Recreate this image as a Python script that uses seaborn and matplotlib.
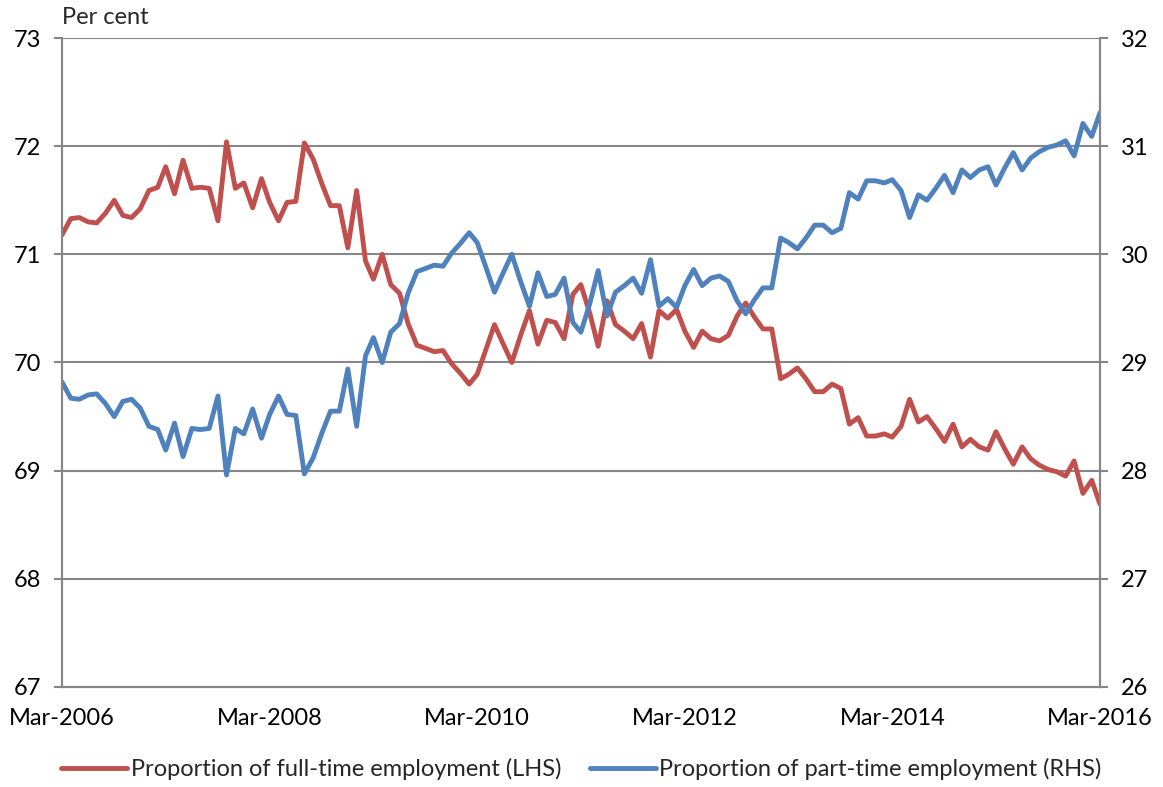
import numpy as np
import pandas as pd
import seaborn as sns
import matplotlib.pyplot as plt

# monthly, Mar-2006 .. Mar-2016
months = pd.date_range("2006-03-01", "2016-03-01", freq="MS")

full_time = [71.18, 71.33, 71.34, 71.30, 71.29, 71.38, 71.50, 71.36, 71.34, 71.42,
             71.59, 71.62, 71.81, 71.56, 71.87, 71.61, 71.62, 71.61, 71.31, 72.04,
             71.61, 71.66, 71.43, 71.70, 71.48, 71.31, 71.48, 71.49, 72.03, 71.88,
             71.65, 71.45, 71.45, 71.06, 71.59, 70.94, 70.77, 71.00, 70.72, 70.64,
             70.36, 70.16, 70.13, 70.10, 70.11, 69.99, 69.90, 69.80, 69.89, 70.12,
             70.35, 70.17, 70.00, 70.25, 70.48, 70.17, 70.39, 70.37, 70.22, 70.63,
             70.72, 70.46, 70.15, 70.57, 70.35, 70.29, 70.22, 70.36, 70.05, 70.48,
             70.41, 70.49, 70.29, 70.14, 70.29, 70.22, 70.20, 70.25, 70.43, 70.55,
             70.42, 70.31, 70.31, 69.85, 69.89, 69.95, 69.85, 69.73, 69.73, 69.80,
             69.76, 69.43, 69.49, 69.32, 69.32, 69.34, 69.31, 69.41, 69.66, 69.45,
             69.50, 69.39, 69.27, 69.43, 69.22, 69.29, 69.22, 69.19, 69.36, 69.20,
             69.06, 69.22, 69.11, 69.05, 69.01, 68.99, 68.95, 69.09, 68.79, 68.91,
             68.69]

part_time = [28.82, 28.67, 28.66, 28.70, 28.71, 28.62, 28.50, 28.64, 28.66, 28.58,
             28.41, 28.38, 28.19, 28.44, 28.13, 28.39, 28.38, 28.39, 28.69, 27.96,
             28.39, 28.34, 28.57, 28.30, 28.52, 28.69, 28.52, 28.51, 27.97, 28.12,
             28.35, 28.55, 28.55, 28.94, 28.41, 29.06, 29.23, 29.00, 29.28, 29.36,
             29.64, 29.84, 29.87, 29.90, 29.89, 30.01, 30.10, 30.20, 30.11, 29.88,
             29.65, 29.83, 30.00, 29.75, 29.52, 29.83, 29.61, 29.63, 29.78, 29.37,
             29.28, 29.54, 29.85, 29.43, 29.65, 29.71, 29.78, 29.64, 29.95, 29.52,
             29.59, 29.51, 29.71, 29.86, 29.71, 29.78, 29.80, 29.75, 29.57, 29.45,
             29.58, 29.69, 29.69, 30.15, 30.11, 30.05, 30.15, 30.27, 30.27, 30.20,
             30.24, 30.57, 30.51, 30.68, 30.68, 30.66, 30.69, 30.59, 30.34, 30.55,
             30.50, 30.61, 30.73, 30.57, 30.78, 30.71, 30.78, 30.81, 30.64, 30.80,
             30.94, 30.78, 30.89, 30.95, 30.99, 31.01, 31.05, 30.91, 31.21, 31.09,
             31.31]

tick_months = months[::24]
tick_labels = [d.strftime("%b-%Y") for d in tick_months]

red = "#C0504D"
blue = "#4F81BD"
grey = "#868686"

sns.set_style("white")
plt.rcParams["font.family"] = ["Lato", "DejaVu Sans"]

fig = plt.figure(figsize=(11.63, 7.87), dpi=100)
ax = fig.add_axes([0.0533, 0.1271, 0.8925, 0.8246])
ax2 = ax.twinx()

df = pd.DataFrame({"month": months, "full": full_time, "part": part_time})

sns.lineplot(data=df, x="month", y="full", ax=ax, color=red, linewidth=3.5,
             label="Proportion of full-time employment (LHS)", legend=False)
sns.lineplot(data=df, x="month", y="part", ax=ax2, color=blue, linewidth=3.5,
             label="Proportion of part-time employment (RHS)", legend=False)

ax.set_xlim(months[0], months[-1])
ax.set_ylim(67, 73)
ax2.set_ylim(26, 32)
ax.set_yticks(range(67, 74))
ax2.set_yticks(range(26, 33))
ax.set_xticks(tick_months)
ax.set_xticklabels(tick_labels)
ax.set_xlabel("")
ax.set_ylabel("")
ax2.set_ylabel("")

ax.grid(axis="y", color=grey, linewidth=1.5)
ax.set_axisbelow(True)

for a in (ax, ax2):
    for s in ("left", "right", "bottom"):
        a.spines[s].set_color(grey)
        a.spines[s].set_linewidth(1.5)
    a.spines["top"].set_visible(False)
    a.tick_params(axis="both", which="major", direction="out", length=6,
                  width=1.5, color=grey, labelsize=17, labelcolor="black")
ax.tick_params(axis="y", pad=9)
ax2.tick_params(axis="y", pad=9)
ax.tick_params(axis="x", pad=9)

ax.text(0.0, 1.015, "Per cent", transform=ax.transAxes, fontsize=17,
        ha="left", va="bottom")

h1, l1 = ax.get_legend_handles_labels()
h2, l2 = ax2.get_legend_handles_labels()
fig.legend(h1 + h2, l1 + l2, loc="lower center", bbox_to_anchor=(0.5, -0.018),
           ncol=2, frameon=False, fontsize=17, handlelength=2.8,
           handletextpad=0.15, columnspacing=1.2)

fig.savefig("out.png", dpi=100)
